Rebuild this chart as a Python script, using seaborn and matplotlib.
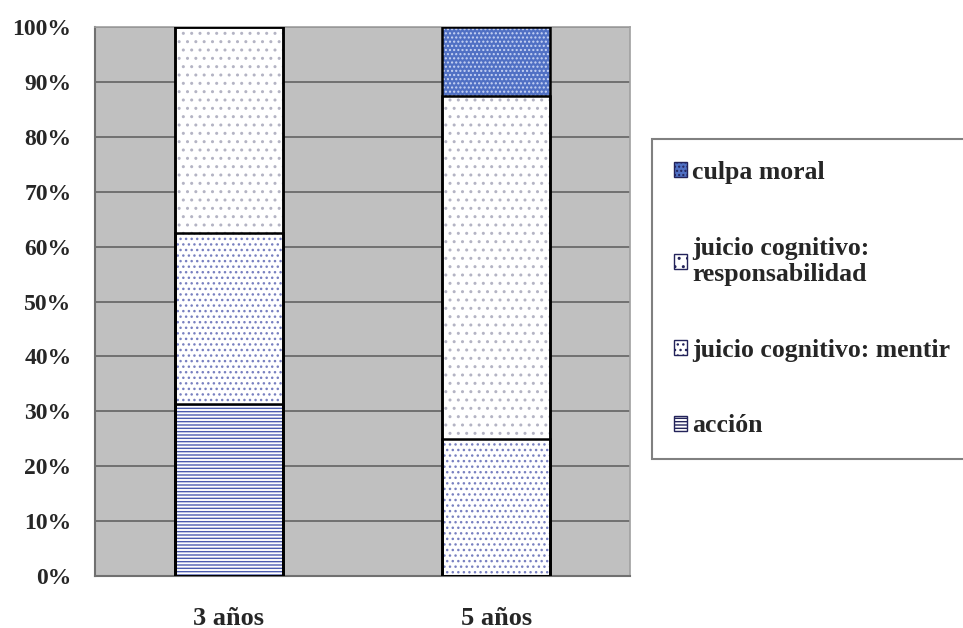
import matplotlib
matplotlib.use("Agg")
import matplotlib.pyplot as plt
import seaborn as sns
import numpy as np
from matplotlib.patches import Patch

# ---- data ----
categories = ["3 años", "5 años"]
accion = [31.25, 0.0]
mentir = [31.25, 25.0]
responsabilidad = [37.5, 62.5]
culpa = [0.0, 12.5]
series_names = ["acción", "juicio cognitivo: mentir",
                "juicio cognitivo:\nresponsabilidad", "culpa moral"]
ytick_values = [0, 10, 20, 30, 40, 50, 60, 70, 80, 90, 100]
ytick_labels = ["0%", "10%", "20%", "30%", "40%", "50%", "60%", "70%",
                "80%", "90%", "100%"]

# ---- styles (bottom to top) ----
faces = ["white", "white", "white", "#5070c4"]
hatches = ["-----", "...", "..", "...."]
hatch_colors = ["#4c5cb0", "#7880c0", "#b4b4c4", "#c8d4f4"]

sns.set_style("white")
plt.rcParams['font.family'] = ['Liberation Serif', 'DejaVu Serif']
plt.rcParams['font.weight'] = 'bold'
plt.rcParams['hatch.linewidth'] = 1.0

fig = plt.figure(figsize=(9.63, 6.28), dpi=100)
ax = fig.add_axes([95/963, 52/628, 535/963, 549/628])
ax.set_facecolor("#c0c0c0")
ax.set_axisbelow(True)

stack = np.cumsum(np.array([accion, mentir, responsabilidad, culpa]), axis=0)

# filled / hatched layers, drawn from the tallest cumulative down
for i in reversed(range(4)):
    n0 = len(ax.patches)
    sns.barplot(x=categories, y=stack[i], ax=ax, color=faces[i],
                width=0.404, errorbar=None, saturation=1)
    for p in ax.patches[n0:]:
        p.set_facecolor(faces[i])
        p.set_edgecolor(hatch_colors[i])
        p.set_hatch(hatches[i])
        p.set_linewidth(0)

# outlines
for i in reversed(range(4)):
    n0 = len(ax.patches)
    sns.barplot(x=categories, y=stack[i], ax=ax, color="black",
                width=0.404, errorbar=None, saturation=1, fill=False)
    for p in ax.patches[n0:]:
        p.set_facecolor("none")
        p.set_edgecolor("black")
        p.set_linewidth(1.8)
        p.set_zorder(3)

ax.set_xlim(-0.5, 1.5)
ax.set_ylim(0, 100)
ax.set_xlabel("")
ax.set_ylabel("")

ax.set_xticks([-0.5, 0.5, 1.5])
ax.set_xticklabels([])
ax.set_xticks([0, 1], minor=True)
ax.set_xticklabels(categories, minor=True)
ax.tick_params(axis='x', which='major', length=6, direction='out',
               color='#707070', width=1.2)
ax.tick_params(axis='x', which='minor', length=0, pad=22, labelsize=19)

ax.set_yticks(ytick_values)
ax.set_yticklabels(ytick_labels)
ax.tick_params(axis='y', length=4, direction='out', color='#707070',
               width=1.2, pad=13, labelsize=17)
for lbl in ax.get_xticklabels(minor=True) + ax.get_yticklabels():
    lbl.set_fontweight('bold')

ax.yaxis.grid(True, color='#6a6a6a', linewidth=1.3)
ax.xaxis.grid(False)

for s in ['left', 'bottom']:
    ax.spines[s].set_color('#707070')
    ax.spines[s].set_linewidth(1.5)
for s in ['top', 'right']:
    ax.spines[s].set_color('#a0a0a0')
    ax.spines[s].set_linewidth(1.2)

# ---- legend ----
handles = []
for i in reversed(range(4)):
    handles.append(Patch(facecolor=faces[i], edgecolor='#23235a',
                         hatch=hatches[i], linewidth=1.0))
labels = list(reversed(series_names))
leg = fig.legend(handles, labels, loc='upper left',
                 bbox_to_anchor=(652/963, 1 - 139/628),
                 frameon=True, fancybox=False, shadow=False,
                 edgecolor='#808080', facecolor='white',
                 prop=dict(family=['Liberation Serif', 'DejaVu Serif'],
                           weight='bold', size=18.5),
                 handlelength=0.5, handleheight=0.5, handletextpad=0.2,
                 labelspacing=2.05, borderpad=0.85, borderaxespad=0)
leg.get_frame().set_linewidth(1.5)
leg.get_frame().set_alpha(1)

fig.savefig("out.png", dpi=100)
